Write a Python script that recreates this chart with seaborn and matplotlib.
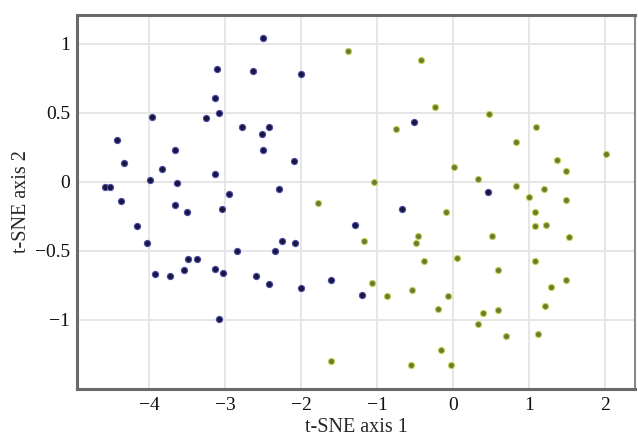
import numpy as np
import pandas as pd
import matplotlib
matplotlib.use("Agg")
import matplotlib.pyplot as plt
import seaborn as sns

# t-SNE embedding
group_a_x = [-2.50, -3.11, -2.63, -2.01, -3.13, -3.08, -3.25, -3.96, -2.78, -2.42,
             -2.52, -2.51, -4.42, -4.33, -3.66, -2.10, -3.83, -3.14, -3.99, -3.64,
             -4.58, -4.52, -2.30, -2.95, -4.37, -3.66, -3.51, -3.05, -4.16, -4.03,
             -2.84, -2.25, -2.08, -2.34, -3.49, -3.37, -3.93, -3.73, -3.55, -3.13,
             -3.03, -2.60, -2.43, -2.00, -3.08, -0.68, -1.29, -1.61, -1.20, -0.52,
             0.46]
group_a_y = [1.04, 0.82, 0.80, 0.78, 0.61, 0.50, 0.46, 0.47, 0.40, 0.40,
             0.35, 0.23, 0.30, 0.14, 0.23, 0.15, 0.09, 0.06, 0.01, -0.01,
             -0.04, -0.04, -0.05, -0.09, -0.14, -0.17, -0.22, -0.20, -0.32, -0.44,
             -0.50, -0.43, -0.44, -0.50, -0.56, -0.56, -0.67, -0.68, -0.64, -0.63,
             -0.66, -0.68, -0.74, -0.77, -0.99, -0.20, -0.31, -0.71, -0.82, 0.43,
             -0.07]

group_b_x = [-1.39, -0.43, -0.24, 0.47, -0.76, 1.09, 0.82, 2.01, 1.37, 1.49,
             0.01, 0.32, -1.04, 0.83, 1.19, 1.00, 1.48, -1.78, -0.09, 1.08,
             1.08, 1.22, 0.51, -0.46, -0.49, -1.18, 1.53, -0.39, 0.05, 1.08,
             0.59, 1.49, -1.07, 1.29, -0.54, -0.87, -0.07, 1.21, -0.20, 0.59,
             0.39, 0.32, 0.70, 1.11, -0.16, -1.61, -0.55, -0.03]
group_b_y = [0.95, 0.88, 0.54, 0.49, 0.38, 0.40, 0.29, 0.20, 0.16, 0.08,
             0.11, 0.02, 0.00, -0.03, -0.05, -0.11, -0.13, -0.15, -0.22, -0.22,
             -0.32, -0.31, -0.39, -0.39, -0.44, -0.43, -0.40, -0.57, -0.55, -0.57,
             -0.64, -0.71, -0.73, -0.76, -0.78, -0.83, -0.83, -0.90, -0.92, -0.93,
             -0.95, -1.03, -1.12, -1.10, -1.22, -1.30, -1.33, -1.33]

x_ticks = [-4, -3, -2, -1, 0, 1, 2]
y_ticks = [-1, -0.5, 0, 0.5, 1]
y_tick_labels = ["\u22121", "\u22120.5", "0", "0.5", "1"]
x_tick_labels = ["\u22124", "\u22123", "\u22122", "\u22121", "0", "1", "2"]

df = pd.concat([
    pd.DataFrame({"x": group_a_x, "y": group_a_y, "group": "a"}),
    pd.DataFrame({"x": group_b_x, "y": group_b_y, "group": "b"}),
], ignore_index=True)

sns.set_theme(style="white")
plt.rcParams["font.family"] = ["Liberation Serif", "DejaVu Serif"]

fig = plt.figure(figsize=(6.38, 4.36), dpi=100)
ax = fig.add_axes([0.121, 0.108, 0.874, 0.858])

ax.grid(True, color="#e4e4e4", lw=1.3)
ax.set_axisbelow(True)

for grp, face, edge in [("a", "#17173f", "#4e4eaa"), ("b", "#6c7c2c", "#c5d45a")]:
    sub = df[df["group"] == grp]
    sns.scatterplot(data=sub, x="x", y="y", ax=ax, s=20, color=face,
                    edgecolor=edge, linewidth=0.8, legend=False, zorder=3)

ax.set_xlim(-4.95, 2.39)
ax.set_ylim(-1.5, 1.21)
ax.set_xticks(x_ticks)
ax.set_xticklabels(x_tick_labels)
ax.set_yticks(y_ticks)
ax.set_yticklabels(y_tick_labels)
ax.tick_params(axis="both", length=0, labelsize=14, colors="#111111")
ax.tick_params(axis="x", pad=6)
ax.tick_params(axis="y", pad=5)

ax.set_xlabel("t-SNE axis 1", fontsize=14.5, labelpad=3)
ax.set_ylabel("t-SNE axis 2", fontsize=14.5, labelpad=3)

for side in ["left", "top", "bottom"]:
    ax.spines[side].set_color("#6a6a6a")
    ax.spines[side].set_linewidth(2.2)
ax.spines["right"].set_color("#8a8a8a")
ax.spines["right"].set_linewidth(1.5)

fig.savefig("out.png", dpi=100)
